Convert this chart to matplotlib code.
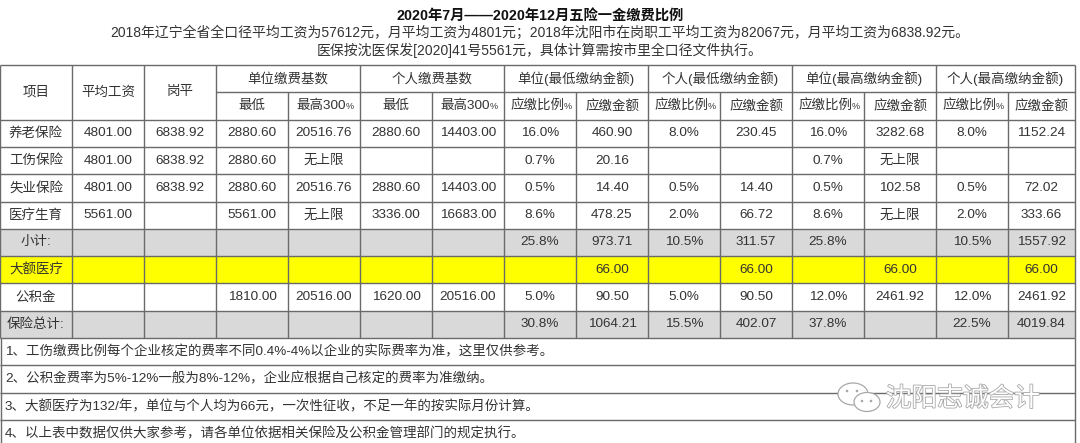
import matplotlib
matplotlib.use("Agg")
import matplotlib.pyplot as plt
from matplotlib.patches import Rectangle, Ellipse, Circle
import matplotlib.patheffects as pe

plt.rcParams['font.family'] = ['Liberation Sans', 'Noto Sans CJK SC', 'DejaVu Sans']

# Texts and values of the table
title = "2020年7月——2020年12月五险一金缴费比例"
subtitle = [
    "2018年辽宁全省全口径平均工资为57612元，月平均工资为4801元；2018年沈阳市在岗职工平均工资为82067元，月平均工资为6838.92元。",
    "医保按沈医保发[2020]41号5561元，具体计算需按市里全口径文件执行。",
]
header_top = ["项目", "平均工资", "岗平"]
header_groups = ["单位缴费基数", "个人缴费基数", "单位(最低缴纳金额)", "个人(最低缴纳金额)",
                 "单位(最高缴纳金额)", "个人(最高缴纳金额)"]
header_sub = ["最低", "最高300%", "最低", "最高300%",
              "应缴比例%", "应缴金额", "应缴比例%", "应缴金额",
              "应缴比例%", "应缴金额", "应缴比例%", "应缴金额"]

row_yanglao = ["养老保险", "4801.00", "6838.92", "2880.60", "20516.76", "2880.60", "14403.00",
               "16.0%", "460.90", "8.0%", "230.45", "16.0%", "3282.68", "8.0%", "1152.24"]
row_gongshang = ["工伤保险", "4801.00", "6838.92", "2880.60", "无上限", "", "",
                 "0.7%", "20.16", "", "", "0.7%", "无上限", "", ""]
row_shiye = ["失业保险", "4801.00", "6838.92", "2880.60", "20516.76", "2880.60", "14403.00",
             "0.5%", "14.40", "0.5%", "14.40", "0.5%", "102.58", "0.5%", "72.02"]
row_yiliao = ["医疗生育", "5561.00", "", "5561.00", "无上限", "3336.00", "16683.00",
              "8.6%", "478.25", "2.0%", "66.72", "8.6%", "无上限", "2.0%", "333.66"]
row_xiaoji = ["小计:", "", "", "", "", "", "",
              "25.8%", "973.71", "10.5%", "311.57", "25.8%", "", "10.5%", "1557.92"]
row_dae = ["大额医疗", "", "", "", "", "", "",
           "", "66.00", "", "66.00", "", "66.00", "", "66.00"]
row_gjj = ["公积金", "", "", "1810.00", "20516.00", "1620.00", "20516.00",
           "5.0%", "90.50", "5.0%", "90.50", "12.0%", "2461.92", "12.0%", "2461.92"]
row_total = ["保险总计:", "", "", "", "", "", "",
             "30.8%", "1064.21", "15.5%", "402.07", "37.8%", "", "22.5%", "4019.84"]
notes = [
    "1、工伤缴费比例每个企业核定的费率不同0.4%-4%以企业的实际费率为准，这里仅供参考。",
    "2、公积金费率为5%-12%一般为8%-12%，企业应根据自己核定的费率为准缴纳。",
    "3、大额医疗为132/年，单位与个人均为66元，一次性征收，不足一年的按实际月份计算。",
    "4、以上表中数据仅供大家参考，请各单位依据相关保险及公积金管理部门的规定执行。",
]
watermark = "沈阳志诚会计"

body_rows = [row_yanglao, row_gongshang, row_shiye, row_yiliao, row_xiaoji, row_dae, row_gjj, row_total]
row_fill = [None, None, None, None, "#d9d9d9", "#ffff00", None, "#d9d9d9"]

# Layout in pixels
W, H = 1080, 443
ncol = 15
xs = [72 * i for i in range(ncol)] + [1075]
top = 65.0
rh = 27.3
line_c = "#6a6a6a"
txt_c = "#333333"
fs = 9.7

fig = plt.figure(figsize=(W / 100, H / 100), dpi=100)
ax = fig.add_axes([0, 0, 1, 1])
ax.set_xlim(0, W)
ax.set_ylim(H, 0)
ax.axis("off")


def cx(c0, c1=None):
    c1 = c0 if c1 is None else c1
    return (xs[c0] + xs[c1 + 1]) / 2


# title block
ax.text(540, 16, title, ha="center", va="center", fontsize=10.3, fontweight="bold", color="#111111")
for i, s in enumerate(subtitle):
    ax.text(540, 33 + 17 * i, s, ha="center", va="center", fontsize=10, color=txt_c)

# header
h1, h2, h3 = top, top + rh, top + 2 * rh
for i, s in enumerate(header_top):
    ax.text(cx(i), (h1 + h3) / 2, s, ha="center", va="center", fontsize=fs, color=txt_c)
for g, s in enumerate(header_groups):
    c0 = 3 + 2 * g
    ax.text(cx(c0, c0 + 1), (h1 + h2) / 2, s, ha="center", va="center", fontsize=fs, color=txt_c)
for j, s in enumerate(header_sub):
    x = cx(3 + j)
    y = (h2 + h3) / 2
    if s.endswith("%"):
        # the percent sign is printed small in the source sheet
        shift = 24 if s.startswith("应") else 22
        ax.text(x + shift, y, s[:-1], ha="right", va="center", fontsize=fs, color=txt_c)
        ax.text(x + shift, y + 1, "%", ha="left", va="center", fontsize=6.5, color=txt_c)
    else:
        ax.text(x, y, s, ha="center", va="center", fontsize=fs, color=txt_c)

# body
for r, (row, fill) in enumerate(zip(body_rows, row_fill)):
    y0 = h3 + r * rh
    if fill:
        ax.add_patch(Rectangle((0, y0), xs[-1], rh, facecolor=fill, edgecolor="none", zorder=0))
    for c, val in enumerate(row):
        if val:
            ax.text(cx(c), y0 + rh / 2, val, ha="center", va="center", fontsize=fs, color=txt_c)

# notes
n0 = h3 + len(body_rows) * rh
for i, s in enumerate(notes):
    ax.text(5, n0 + (i + 0.5) * rh, s, ha="left", va="center", fontsize=fs, color=txt_c)

# grid lines
lw = 1.0
bottom_body = n0
ax.hlines([h1, h3], 0, xs[-1], color=line_c, lw=lw)
ax.hlines(h2, xs[3], xs[-1], color=line_c, lw=lw)
for r in range(1, len(body_rows) + 1):
    ax.hlines(h3 + r * rh, 0, xs[-1], color=line_c, lw=lw)
for i in range(1, len(notes) + 1):
    ax.hlines(n0 + i * rh, 0, xs[-1], color=line_c, lw=lw)
for c in range(ncol + 1):
    if c in (0, 1, 2, 3, 5, 7, 9, 11, 13, 15):
        ax.vlines(xs[c], h1, bottom_body, color=line_c, lw=lw)
    else:
        ax.vlines(xs[c], h2, bottom_body, color=line_c, lw=lw)
ax.vlines([0.5, xs[-1]], n0, H, color=line_c, lw=lw)

# watermark
wm_y = 399
wm_c = "#a8a8a8"
ax.add_patch(Ellipse((853, wm_y - 5), 30, 22, facecolor="white", edgecolor=wm_c, lw=0.9, zorder=5))
ax.add_patch(Ellipse((867, wm_y + 3), 26, 19, facecolor="white", edgecolor=wm_c, lw=0.9, zorder=6))
for px, py in [(847, wm_y - 8), (857, wm_y - 8), (862, wm_y + 2), (871, wm_y + 2)]:
    ax.add_patch(Circle((px, py), 1.3, facecolor=wm_c, edgecolor="none", zorder=7))
ax.text(963, wm_y, watermark, ha="center", va="center", fontsize=18.5, color="white",
        family=["Noto Sans CJK SC"], zorder=8,
        path_effects=[pe.Stroke(linewidth=1.2, foreground=wm_c), pe.Normal()])

fig.savefig("out.png", dpi=100)
